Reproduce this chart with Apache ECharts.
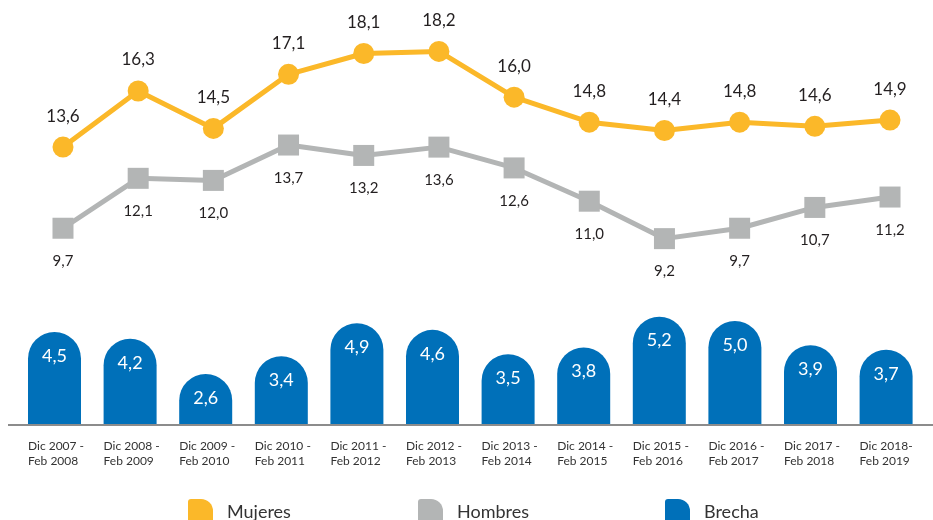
<!DOCTYPE html>
<html><head><meta charset="utf-8">
<script src="https://cdn.jsdelivr.net/npm/echarts@6/dist/echarts.min.js"></script>
<style>html,body{margin:0;padding:0;background:#fff}#c{width:933px;height:520px}</style>
</head><body><div id="c"></div>
<script>
const categories = ['Dic 2007 -\nFeb 2008','Dic 2008 -\nFeb 2009','Dic 2009 -\nFeb 2010','Dic 2010 -\nFeb 2011','Dic 2011 -\nFeb 2012','Dic 2012 -\nFeb 2013','Dic 2013 -\nFeb 2014','Dic 2014 -\nFeb 2015','Dic 2015 -\nFeb 2016','Dic 2016 -\nFeb 2017','Dic 2017 -\nFeb 2018','Dic 2018-\nFeb 2019'];
const mujeres = [13.6,16.3,14.5,17.1,18.1,18.2,16.0,14.8,14.4,14.8,14.6,14.9];
const hombres = [9.7,12.1,12.0,13.7,13.2,13.6,12.6,11.0,9.2,9.7,10.7,11.2];
const brecha = [4.5,4.2,2.6,3.4,4.9,4.6,3.5,3.8,5.2,5.0,3.9,3.7];
const seriesNames = ['Mujeres','Hombres','Brecha'];

const YELLOW = '#FBB829', GRAY = '#B3B5B5', BLUE = '#0070B9';
const FONT = 'Lato';
const fmt = p => p.value.toFixed(1).replace('.', ',');
const iconPath = 'path://M0,3 Q0,0 3,0 L13,0 A12,12 0 0 1 25,12 L25,27 L0,27 Z';

function legend(name, left) {
  return {
    data: [name], left: left, top: 499, padding: 0, itemWidth: 25, itemHeight: 27,
    icon: iconPath, selectedMode: false,
    formatter: n => '{g|}{t|' + n + '}',
    textStyle: {fontFamily: FONT, fontSize: 18, color: '#333',
      rich: {g: {width: 9}, t: {fontFamily: FONT, fontSize: 18, color: '#333'}}}
  };
}

const chart = echarts.init(document.getElementById('c'), null, {renderer: 'canvas'});
chart.setOption({
  animation: false,
  textStyle: {fontFamily: FONT},
  legend: [legend(seriesNames[0], 188), legend(seriesNames[1], 418), legend(seriesNames[2], 665)],
  grid: [
    {left: 25.4, right: 5.4, top: 14, height: 416},
    {left: 16.7, right: 9.1, top: 299, height: 126}
  ],
  xAxis: [
    {type: 'category', gridIndex: 0, data: categories, boundaryGap: true, show: false},
    {type: 'category', gridIndex: 1, data: categories, boundaryGap: true,
     axisLine: {show: false}, axisTick: {show: false},
     axisLabel: {
       margin: 14, interval: 0, align: 'center',
       formatter: v => v.split('\n').map(s => '{a|' + s + '}').join('\n'),
       rich: {a: {width: 53, align: 'left', fontSize: 12, lineHeight: 15, color: '#333', fontFamily: FONT}}
     }}
  ],
  yAxis: [
    {type: 'value', gridIndex: 0, min: 0, max: 20, show: false},
    {type: 'value', gridIndex: 1, min: 0.286, max: 6, show: false}
  ],
  graphic: [{type: 'line', z: 10, shape: {x1: 8, y1: 425, x2: 933, y2: 425}, style: {stroke: '#8c8c8c', lineWidth: 2}}],
  series: [
    {name: 'Mujeres', type: 'line', xAxisIndex: 0, yAxisIndex: 0, data: mujeres,
     symbol: 'circle', symbolSize: 21, itemStyle: {color: YELLOW}, lineStyle: {color: YELLOW, width: 5},
     label: {show: true, position: 'top', distance: 12, formatter: fmt, fontSize: 17, color: '#231f20', fontFamily: FONT}},
    {name: 'Hombres', type: 'line', xAxisIndex: 0, yAxisIndex: 0, data: hombres,
     symbol: 'rect', symbolSize: 21, itemStyle: {color: GRAY}, lineStyle: {color: GRAY, width: 5},
     label: {show: true, position: 'bottom', distance: 15, formatter: fmt, fontSize: 15, color: '#231f20', fontFamily: FONT}},
    {name: 'Brecha', type: 'bar', xAxisIndex: 1, yAxisIndex: 1, data: brecha, barWidth: 53,
     itemStyle: {color: BLUE, borderRadius: [27, 27, 0, 0]},
     label: {show: true, position: 'insideTop', distance: 15, formatter: fmt, fontSize: 18, color: '#fff', fontFamily: FONT}}
  ]
});
</script></body></html>
